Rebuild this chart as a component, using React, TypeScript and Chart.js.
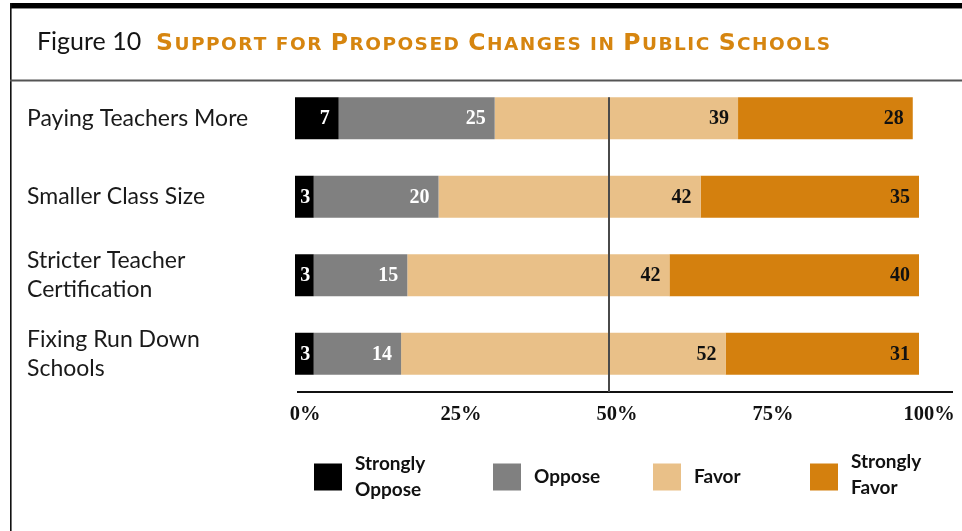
import React, { useEffect, useRef } from 'react';
import { Chart, registerables } from 'chart.js';

Chart.register(...registerables);

// ---- data ----
const categories: (string | string[])[] = [
  'Paying Teachers More',
  'Smaller Class Size',
  ['Stricter Teacher', 'Certification'],
  ['Fixing Run Down', 'Schools'],
];
const seriesNames = ['Strongly Oppose', 'Oppose', 'Favor', 'Strongly Favor'];
const stronglyOppose = [7, 3, 3, 3];
const oppose = [25, 20, 15, 14];
const favor = [39, 42, 42, 52];
const stronglyFavor = [28, 35, 40, 31];
const xTickValues = [0, 25, 50, 75, 100];
const titleLead = 'Figure 10';
const titleMain = 'Support for Proposed Changes in Public Schools';

// ---- styles ----
const W = 962;
const H = 531;
const seriesColors = ['#000000', '#808080', '#E9C088', '#D4800E'];
const valueTextColors = ['#ffffff', '#ffffff', '#111111', '#111111'];
const orange = '#D6850F';
const sansFamily = 'Lato, "Open Sans", sans-serif';
const serifFamily = '"Liberation Serif", "DejaVu Serif", serif';

const framePlugin = {
  id: 'frame',
  beforeDraw(chart: any) {
    const ctx = chart.ctx as CanvasRenderingContext2D;
    ctx.save();
    ctx.fillStyle = '#ffffff';
    ctx.fillRect(0, 0, W, H);
    // top heavy rule
    ctx.fillStyle = '#000000';
    ctx.fillRect(10, 3, W - 10, 5);
    ctx.fillStyle = '#8a8a8a';
    ctx.fillRect(10, 8, W - 10, 1);
    // left rule
    ctx.fillStyle = '#111111';
    ctx.fillRect(10, 3, 1.6, H - 3);
    // separator under title
    ctx.fillStyle = '#555555';
    ctx.fillRect(10, 79.5, W - 10, 2);

    // title lead
    ctx.textBaseline = 'alphabetic';
    ctx.textAlign = 'left';
    ctx.fillStyle = '#141414';
    ctx.font = `25px ${sansFamily}`;
    ctx.fillText(titleLead, 37, 50);

    // small caps title
    const bigFont = `bold 23.5px "DejaVu Sans", sans-serif`;
    const smallFont = `bold 18.5px "DejaVu Sans", sans-serif`;
    const chars = titleMain.split('');
    const widths = chars.map((c) => {
      const isUpper = c !== ' ' && c === c.toUpperCase();
      ctx.font = isUpper ? bigFont : smallFont;
      return ctx.measureText(c === ' ' ? ' ' : c.toUpperCase()).width;
    });
    const natural = widths.reduce((a, b) => a + b, 0);
    const targetWidth = 674;
    const track = (targetWidth - natural) / (chars.length - 1);
    let x = 156;
    ctx.fillStyle = orange;
    chars.forEach((c, i) => {
      const isUpper = c !== ' ' && c === c.toUpperCase();
      ctx.font = isUpper ? bigFont : smallFont;
      if (c !== ' ') ctx.fillText(c.toUpperCase(), x, 50);
      x += widths[i] + track;
    });
    ctx.restore();
  },
  afterDatasetsDraw(chart: any) {
    const ctx = chart.ctx as CanvasRenderingContext2D;
    const xs = chart.scales.x;
    ctx.save();
    // value labels
    ctx.font = `bold 20px ${serifFamily}`;
    ctx.textBaseline = 'middle';
    chart.data.datasets.forEach((ds: any, di: number) => {
      const meta = chart.getDatasetMeta(di);
      meta.data.forEach((el: any, i: number) => {
        const text = String(ds.data[i]);
        const tw = ctx.measureText(text).width;
        const segW = Math.abs(el.x - el.base);
        ctx.fillStyle = valueTextColors[di];
        if (segW < tw + 16) {
          ctx.textAlign = 'center';
          ctx.fillText(text, (el.x + el.base) / 2 + 1, el.y + 1);
        } else {
          ctx.textAlign = 'right';
          ctx.fillText(text, el.x - 9, el.y + 1);
        }
      });
    });
    // axis line
    const axisY = chart.chartArea.bottom - 1;
    ctx.fillStyle = '#111111';
    ctx.fillRect(xs.getPixelForValue(0) + 2, axisY - 1, 656, 2);
    // 50% reference line
    const first = chart.getDatasetMeta(0).data[0];
    const top = first.y - first.height / 2;
    const cx = Math.round(xs.getPixelForValue(50)) + 2;
    ctx.fillStyle = '#4a4a4a';
    ctx.fillRect(cx - 1, top, 2, axisY - top);

    // legend
    const legendX = [314, 493, 653, 810];
    ctx.font = `bold 19px ${sansFamily}`;
    ctx.textAlign = 'left';
    ctx.textBaseline = 'middle';
    seriesNames.forEach((name, i) => {
      const bx = legendX[i];
      ctx.fillStyle = seriesColors[i];
      ctx.fillRect(bx, 463.5, 28, 27);
      const lines = name.split(' ');
      const lh = 26;
      const cy = 477 - ((lines.length - 1) * lh) / 2 - (i === 3 ? 2 : 0);
      ctx.fillStyle = '#111111';
      lines.forEach((ln, li) => ctx.fillText(ln, bx + 41, cy + li * lh));
    });
    ctx.restore();
  },
};

export default function App() {
  const canvasRef = useRef<HTMLCanvasElement | null>(null);

  useEffect(() => {
    if (!canvasRef.current) return;
    const chart = new Chart(canvasRef.current, {
      type: 'bar',
      data: {
        labels: categories as any,
        datasets: [stronglyOppose, oppose, favor, stronglyFavor].map((vals, i) => ({
          label: seriesNames[i],
          data: vals,
          backgroundColor: seriesColors[i],
          borderWidth: 0,
          categoryPercentage: 1,
          barPercentage: 0.535,
        })),
      },
      options: {
        indexAxis: 'y',
        animation: false,
        responsive: false,
        devicePixelRatio: 1,
        layout: { padding: { top: 79, left: 27, right: 43, bottom: 98 } },
        plugins: {
          legend: { display: false },
          title: { display: false },
          tooltip: { enabled: false },
        },
        scales: {
          x: {
            stacked: true,
            min: 0,
            max: 100,
            afterBuildTicks: (scale: any) => {
              scale.ticks = xTickValues.map((v) => ({ value: v }));
            },
            afterFit: (scale: any) => {
              scale.height = 40;
            },
            grid: { display: false, drawTicks: false },
            border: { display: false },
            ticks: {
              padding: 9,
              labelOffset: 10,
              color: '#111111',
              font: { family: serifFamily, size: 20.5, weight: 'bold' },
              callback: (v: any) => `${v}%`,
            },
          },
          y: {
            stacked: true,
            afterFit: (scale: any) => {
              scale.width = 268;
            },
            grid: { display: false, drawTicks: false },
            border: { display: false },
            ticks: {
              crossAlign: 'far',
              padding: 0,
              color: '#1a1a1a',
              font: { family: sansFamily, size: 23, lineHeight: 1.27 },
            },
          },
        },
      },
      plugins: [framePlugin],
    } as any);
    return () => chart.destroy();
  }, []);

  return (
    <div style={{ position: 'fixed', left: 0, top: 0, width: W, height: H, background: '#fff' }}>
      <canvas ref={canvasRef} width={W} height={H} style={{ width: W, height: H, display: 'block' }} />
    </div>
  );
}
